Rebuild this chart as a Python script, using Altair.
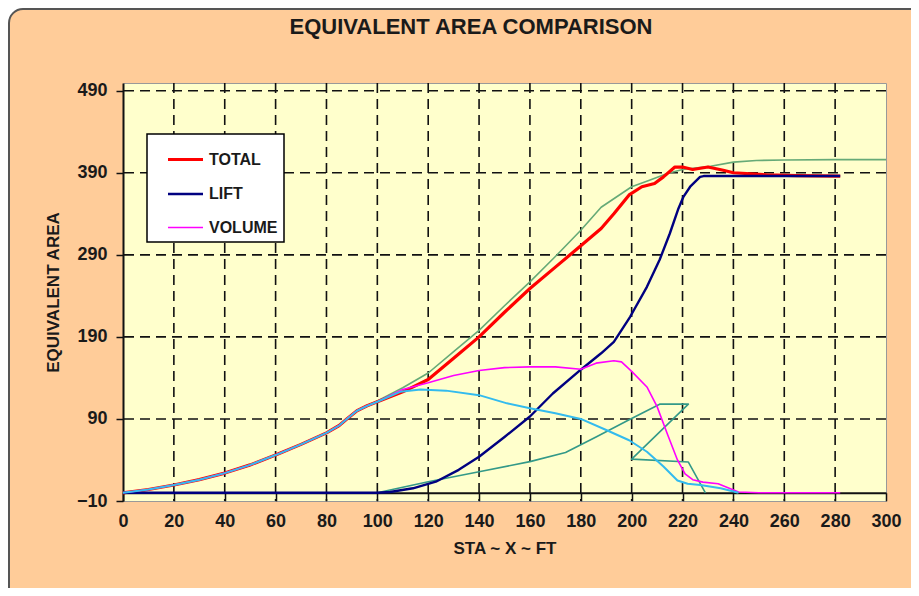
import altair as alt
import pandas as pd

FONT = "Liberation Sans"
TITLE = "EQUIVALENT AREA COMPARISON"

# ---- axis ticks / grid ----
X_TICKS = [0, 20, 40, 60, 80, 100, 120, 140, 160, 180, 200, 220, 240, 260, 280, 300]
Y_TICKS = [-10, 90, 190, 290, 390, 490]
X_GRID = [20, 40, 60, 80, 100, 120, 140, 160, 180, 200, 220, 240, 260, 280]
Y_GRID = [90, 190, 290, 390, 490]

# ---- series ----
TOTAL_X = [0, 10, 20, 30, 40, 50, 60, 70, 80, 85, 88, 92, 96, 100, 110, 120, 130, 140, 150, 160, 170, 180,
           188, 193, 199, 204, 209, 212.5, 217, 220, 224, 230, 236, 240, 253, 265, 282]
TOTAL_V = [0, 4, 9.5, 16, 24, 34, 46, 59, 73, 82, 90, 100, 106, 111, 123, 138, 164, 190, 220, 249, 275, 301,
           322, 340, 363, 373, 377, 385, 397, 397, 394, 397, 393, 390, 387.5, 386.5, 386]

LIFT_X = [0, 100, 105, 114, 123, 132, 140, 150, 160, 169, 180, 188, 193, 199.4, 206, 211, 215, 218.4, 220.4,
          223, 226.9, 228.3, 240, 260, 282]
LIFT_V = [0, 0, 1, 5.5, 13.5, 28, 44, 68, 93, 121, 150, 170, 184, 214.5, 251, 284, 316, 346.5, 361,
          373, 385, 386, 386, 386, 386]

VOLUME_X = [0, 10, 20, 30, 40, 50, 60, 70, 80, 85, 88, 92, 96, 100, 110, 120, 130, 140, 150, 160, 170, 180,
            186, 193, 196, 200, 206, 210, 214, 218, 221, 224, 228, 234, 242, 250, 260, 270, 282]
VOLUME_V = [0, 4, 9.5, 16, 24, 34, 46, 59, 73, 82, 90, 100, 106, 111, 126, 134, 143, 149, 152.5, 153.5, 153.5, 150.5,
            158, 161, 159.5, 148, 129, 105, 72, 40, 23, 16, 13, 11, 1, 0, 0, 0, 0]

TARGET_X = [0, 10, 20, 30, 40, 50, 60, 70, 80, 85, 88, 92, 96, 100, 110, 120, 130, 140, 150, 160, 170, 180,
            188, 200, 207, 214, 220, 231, 240, 249, 260, 280, 300]
TARGET_V = [0, 4, 9.5, 16, 24, 34, 46, 59, 73, 82, 90, 100, 106, 112, 128, 146, 172, 198, 228, 257, 288, 320,
            348, 373, 381, 389, 394, 398, 403, 405, 405.5, 406, 406]

CYAN_X = [0, 10, 20, 30, 40, 50, 60, 70, 80, 85, 88, 92, 96, 100, 109, 117, 127, 140, 151, 160, 170, 180,
          190, 199, 206, 212.5, 218, 222, 227, 235, 242]
CYAN_V = [0, 4, 9.5, 16, 24, 34, 46, 59, 73, 82, 90, 100, 106, 111, 123, 126, 124.5, 119, 109, 103, 97, 90,
          76.5, 64, 50, 32, 15, 11, 9.5, 5.5, 0]

TEAL_X = [100, 120, 140, 160, 174, 186, 199, 211, 222.3, 200, 222.3, 229]
TEAL_V = [0, 13.5, 25.7, 38, 49, 68, 89, 108, 108, 41, 37.5, 0]

SERIES = ["TOTAL", "LIFT", "VOLUME"]
SERIES_COLORS = ["#FF0000", "#000080", "#FF00FF"]
SERIES_WIDTHS = [3.2, 1.6, 1.6]


def line_df(xs, vs, name):
    return pd.DataFrame({"x": xs, "v": vs, "series": name, "ord": list(range(len(xs)))})


x_scale = alt.Scale(domain=[0, 300], nice=False, zero=False)
y_scale = alt.Scale(domain=[-10, 499.4], nice=False, zero=False)

x_axis = alt.Axis(values=X_TICKS, grid=False, offset=-8.2, tickSize=8, tickColor="#111", tickWidth=1.5,
                  domainColor="#111", domainWidth=2, labelFont=FONT, labelFontSize=18, labelFontWeight="bold",
                  labelColor="#1a1a1a", labelPadding=12, labelFlush=False, labelOverlap=False,
                  titleFont=FONT, titleFontSize=17, titleFontWeight="bold", titleColor="#1a1a1a", titlePadding=10)
y_axis = alt.Axis(values=Y_TICKS, grid=False, tickSize=7, tickColor="#111", tickWidth=1.5,
                  domainColor="#111", domainWidth=2, labelFont=FONT, labelFontSize=18, labelFontWeight="bold",
                  labelColor="#1a1a1a", labelPadding=9, labelFlush=False, labelOverlap=False,
                  titleFont=FONT, titleFontSize=17, titleFontWeight="bold", titleColor="#1a1a1a", titlePadding=14)

X = alt.X("x:Q", scale=x_scale, axis=x_axis, title="STA ~ X ~ FT")
Y = alt.Y("v:Q", scale=y_scale, axis=y_axis, title="EQUIVALENT AREA")

one = pd.DataFrame({"k": [0]})

# decorative outer frame (rounded) and white corner mask
mask = alt.Chart(one).mark_rect(cornerRadius=29, fillOpacity=0, stroke="white", strokeWidth=30).encode(
    x=alt.value(-129), x2=alt.value(835), y=alt.value(-89), y2=alt.value(555))
frame = alt.Chart(one).mark_rect(cornerRadius=14, fillOpacity=0, stroke="#555555", strokeWidth=2).encode(
    x=alt.value(-114), x2=alt.value(820), y=alt.value(-74), y2=alt.value(540))

# chart title
title = alt.Chart(one).mark_text(text=TITLE, font=FONT, fontSize=22, fontWeight="bold", color="#1a1a1a",
                                 align="center", baseline="middle").encode(
    x=alt.value(348), y=alt.value(-56))

hgrid = alt.Chart(pd.DataFrame({"v": Y_GRID})).mark_rule(
    color="#111", strokeWidth=1.6, strokeDash=[10, 6]).encode(y=Y)
vgrid = alt.Chart(pd.DataFrame({"x": X_GRID})).mark_rule(
    color="#111", strokeWidth=1.6, strokeDash=[10, 6]).encode(x=X)

legend = alt.Legend(orient="none", legendX=24, legendY=51, title=None, direction="vertical",
                    fillColor="white", strokeColor="black", padding=6,
                    symbolType="stroke", symbolSize=1225, symbolOffset=13, labelOffset=4,
                    labelFont=FONT, labelFontSize=16, labelFontWeight="bold", labelColor="#1a1a1a",
                    labelExpr="datum.label + '\u00a0\u00a0\u00a0'", rowPadding=7)
color_enc = alt.Color("series:N", scale=alt.Scale(domain=SERIES, range=SERIES_COLORS), legend=legend)
width_enc = alt.StrokeWidth("series:N", scale=alt.Scale(domain=SERIES, range=SERIES_WIDTHS), legend=legend)


def plain_line(xs, vs, name, color, width):
    return alt.Chart(line_df(xs, vs, name)).mark_line(color=color, strokeWidth=width, strokeJoin="round").encode(
        x=X, y=Y, order="ord:Q")


def legend_line(xs, vs, name):
    return alt.Chart(line_df(xs, vs, name)).mark_line(strokeJoin="round").encode(
        x=X, y=Y, order="ord:Q", color=color_enc, strokeWidth=width_enc)


green = plain_line(TARGET_X, TARGET_V, "TARGET", "#66AA77", 1.6)
teal = plain_line(TEAL_X, TEAL_V, "TEAL", "#339988", 1.6)
total = legend_line(TOTAL_X, TOTAL_V, "TOTAL")
lift = legend_line(LIFT_X, LIFT_V, "LIFT")
volume = legend_line(VOLUME_X, VOLUME_V, "VOLUME")
cyan = plain_line(CYAN_X, CYAN_V, "CYAN", "#33BBEE", 2.0)

chart = alt.layer(mask, frame, title, hgrid, vgrid, green, teal, total, lift, volume, cyan).properties(
    width=763, height=418,
    autosize="none",
    padding={"left": 115, "top": 75, "right": 25, "bottom": 87},
).configure(background="#FFCC99").configure_view(fill="#FFFFCC", stroke="#999999", strokeWidth=1
).configure_legend(strokeWidth=1.5)

chart.save("out.html", embed_options={"renderer": "svg", "actions": False})
